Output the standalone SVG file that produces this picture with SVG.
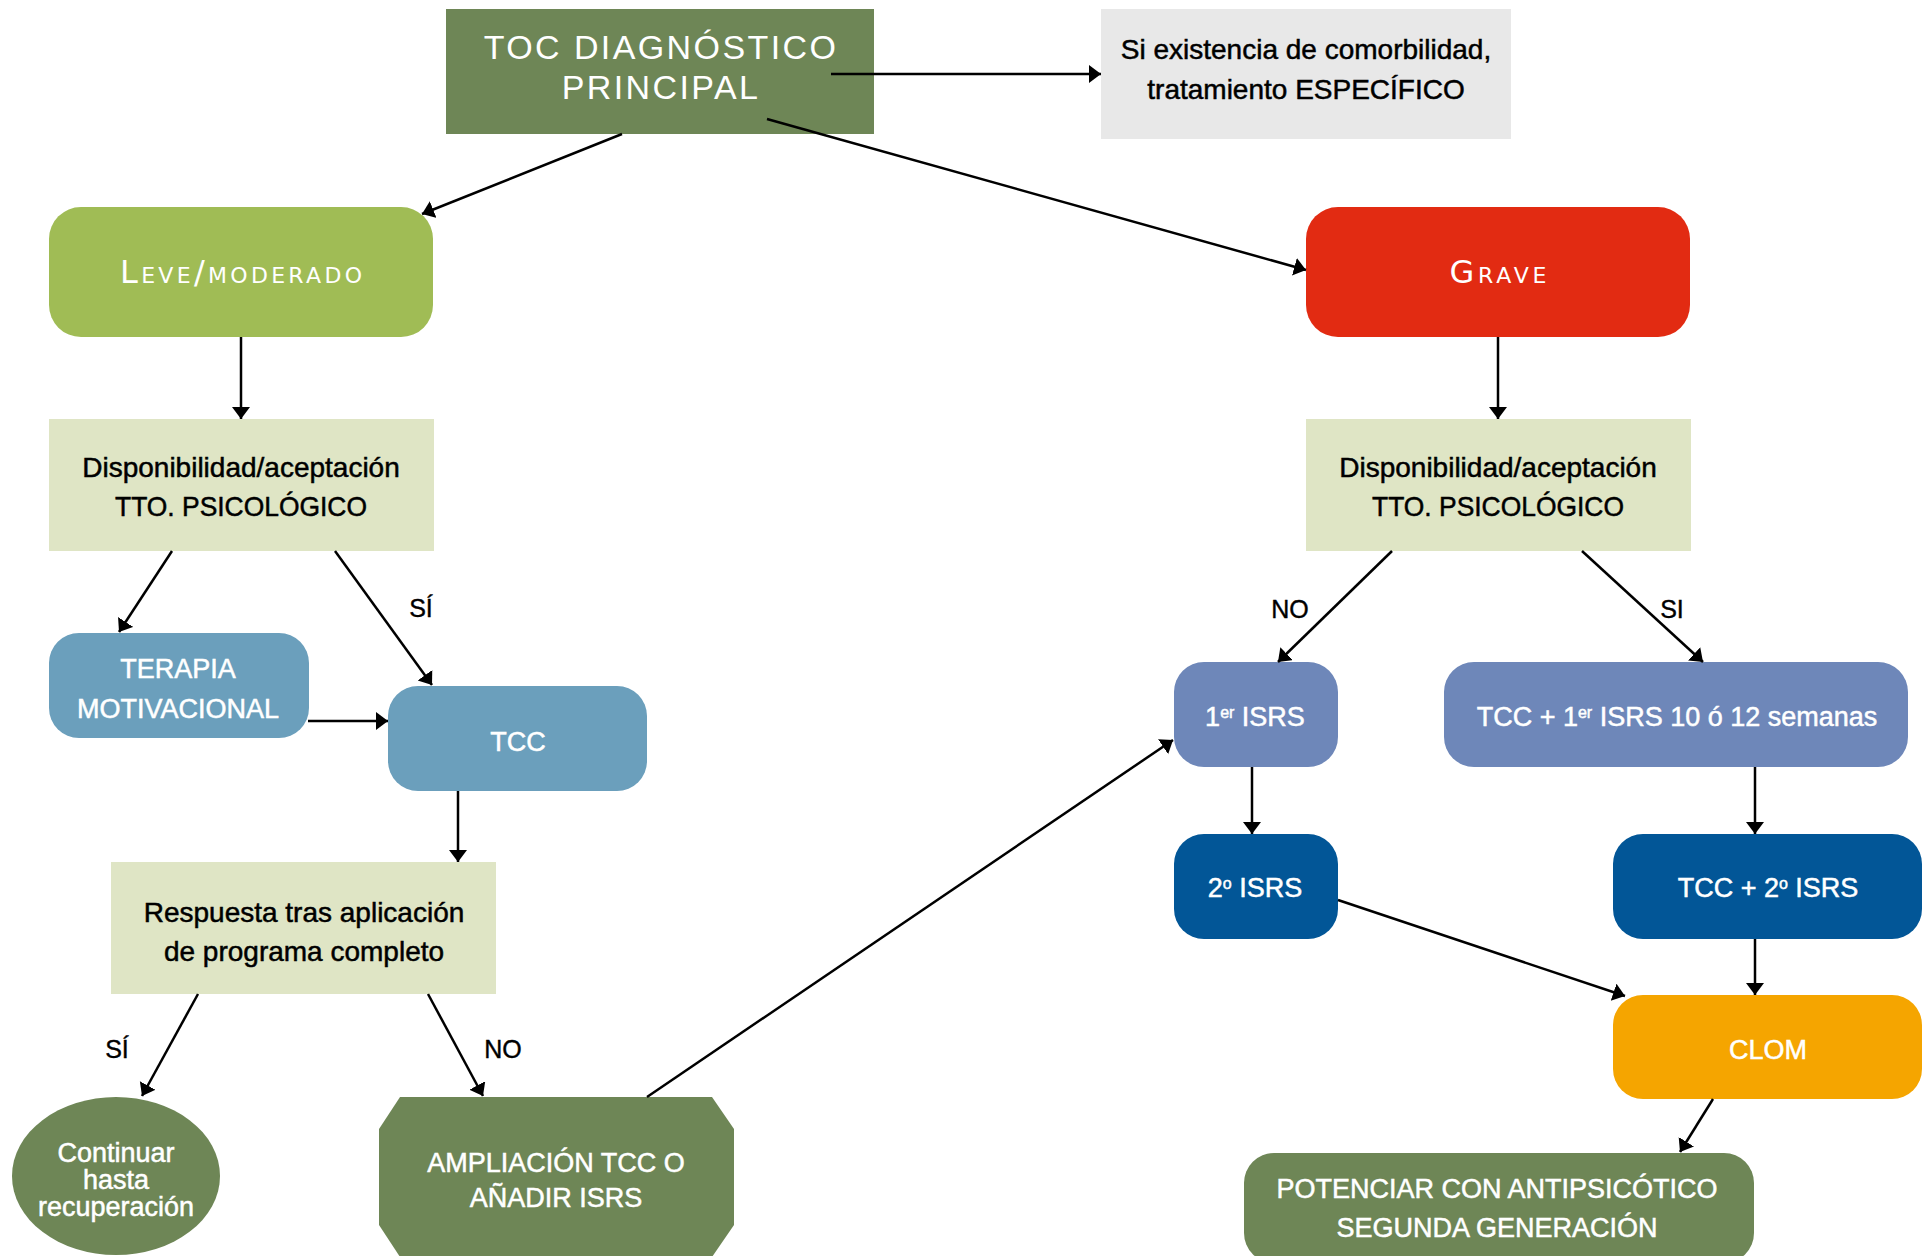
<svg xmlns="http://www.w3.org/2000/svg" width="1932" height="1256" viewBox="0 0 1932 1256">
<style>
text{font-family:"Liberation Sans",Arial,sans-serif;text-anchor:middle}
.w{fill:#ffffff;font-size:27px;stroke:#ffffff;stroke-width:0.5px}
.b{fill:#000000;font-size:28px;stroke:#000000;stroke-width:0.5px}
.lbl{fill:#000000;font-size:25px;stroke:#000000;stroke-width:0.4px}
.title{fill:#ffffff;font-size:34px;letter-spacing:2.4px}
.sc{fill:#ffffff;font-size:32px;font-variant:small-caps;font-family:"DejaVu Sans","Liberation Sans",sans-serif}
.olive{fill:#6E8656}
.lightg{fill:#DFE5C5}
.steel{fill:#6B9FBC}
.lav{fill:#6E87B9}
.navy{fill:#025697}
.conn line{stroke:#000;stroke-width:2.5;marker-end:url(#ah)}
</style>
<defs>
<marker id="ah" markerUnits="userSpaceOnUse" markerWidth="14" markerHeight="20" refX="12" refY="9" orient="auto">
<path d="M0,0 L12,9 L0,18 z" fill="#000"/>
</marker>
</defs>
<rect width="1932" height="1256" fill="#ffffff"/>

<g id="n-toc">
<rect x="446" y="9" width="428" height="125" class="olive"/>
<text class="title" x="661" y="59">TOC DIAGNÓSTICO</text>
<text class="title" x="661" y="99">PRINCIPAL</text>
</g>

<g id="n-comorb">
<rect x="1101" y="9" width="410" height="130" fill="#E8E8E8"/>
<text class="b" x="1306" y="59">Si existencia de comorbilidad,</text>
<text class="b" x="1306" y="99">tratamiento ESPECÍFICO</text>
</g>

<g id="n-leve">
<rect x="49" y="207" width="384" height="130" rx="32" fill="#A0BC55"/>
<text class="sc" x="241" y="283" textLength="242">Leve/moderado</text>
</g>

<g id="n-grave">
<rect x="1306" y="207" width="384" height="130" rx="32" fill="#E22B12"/>
<text class="sc" x="1498" y="283" textLength="97">Grave</text>
</g>

<g id="n-dispo-l">
<rect x="49" y="419" width="385" height="132" class="lightg"/>
<text class="b" x="241" y="477">Disponibilidad/aceptación</text>
<text class="b" x="241" y="516" textLength="252" lengthAdjust="spacingAndGlyphs">TTO. PSICOLÓGICO</text>
</g>

<g id="n-dispo-r">
<rect x="1306" y="419" width="385" height="132" class="lightg"/>
<text class="b" x="1498" y="477">Disponibilidad/aceptación</text>
<text class="b" x="1498" y="516" textLength="252" lengthAdjust="spacingAndGlyphs">TTO. PSICOLÓGICO</text>
</g>

<g id="n-terapia">
<rect x="49" y="633" width="260" height="105" rx="30" class="steel"/>
<text class="w" x="178" y="678">TERAPIA</text>
<text class="w" x="178" y="718">MOTIVACIONAL</text>
</g>

<g id="n-tcc">
<rect x="388" y="686" width="259" height="105" rx="30" class="steel"/>
<text class="w" x="518" y="751">TCC</text>
</g>

<g id="n-respuesta">
<rect x="111" y="862" width="385" height="132" class="lightg"/>
<text class="b" x="304" y="922">Respuesta tras aplicación</text>
<text class="b" x="304" y="961">de programa completo</text>
</g>

<g id="n-continuar">
<ellipse cx="116" cy="1176" rx="104" ry="79" class="olive"/>
<text class="w" x="116" y="1162">Continuar</text>
<text class="w" x="116" y="1189">hasta</text>
<text class="w" x="116" y="1216">recuperación</text>
</g>

<g id="n-ampliacion">
<polygon points="400,1097 712,1097 734,1129 734,1225 712,1257 400,1257 379,1225 379,1129" class="olive"/>
<text class="w" x="556" y="1172">AMPLIACIÓN TCC O</text>
<text class="w" x="556" y="1207">AÑADIR ISRS</text>
</g>

<g id="n-isrs1">
<rect x="1174" y="662" width="164" height="105" rx="30" class="lav"/>
<text class="w" x="1255" y="726">1<tspan font-size="16" baseline-shift="super">er</tspan> ISRS</text>
</g>

<g id="n-tcc-isrs1">
<rect x="1444" y="662" width="464" height="105" rx="30" class="lav"/>
<text class="w" x="1677" y="726">TCC + 1<tspan font-size="16" baseline-shift="super">er</tspan> ISRS 10 ó 12 semanas</text>
</g>

<g id="n-isrs2">
<rect x="1174" y="834" width="164" height="105" rx="30" class="navy"/>
<text class="w" x="1255" y="897">2<tspan font-size="16" baseline-shift="super">o</tspan> ISRS</text>
</g>

<g id="n-tcc-isrs2">
<rect x="1613" y="834" width="309" height="105" rx="30" class="navy"/>
<text class="w" x="1768" y="897">TCC + 2<tspan font-size="16" baseline-shift="super">o</tspan> ISRS</text>
</g>

<g id="n-clom">
<rect x="1613" y="995" width="309" height="104" rx="30" fill="#F5A500"/>
<text class="w" x="1768" y="1059">CLOM</text>
</g>

<g id="n-potenciar">
<rect x="1244" y="1153" width="510" height="110" rx="30" class="olive"/>
<text class="w" x="1497" y="1198">POTENCIAR CON ANTIPSICÓTICO</text>
<text class="w" x="1497" y="1237">SEGUNDA GENERACIÓN</text>
</g>

<g id="connectors" class="conn">
<line x1="831" y1="74" x2="1101" y2="74"/>
<line x1="622" y1="134" x2="422" y2="214"/>
<line x1="767" y1="119" x2="1306" y2="270"/>
<line x1="241" y1="337" x2="241" y2="419"/>
<line x1="1498" y1="337" x2="1498" y2="419"/>
<line x1="172" y1="551" x2="119" y2="632"/>
<line x1="335" y1="551" x2="432" y2="685"/>
<line x1="308" y1="721" x2="388" y2="721"/>
<line x1="458" y1="791" x2="458" y2="862"/>
<line x1="198" y1="994" x2="142" y2="1096"/>
<line x1="428" y1="994" x2="483" y2="1096"/>
<line x1="647" y1="1097" x2="1173" y2="740"/>
<line x1="1392" y1="551" x2="1278" y2="662"/>
<line x1="1582" y1="551" x2="1703" y2="662"/>
<line x1="1252" y1="767" x2="1252" y2="834"/>
<line x1="1755" y1="767" x2="1755" y2="834"/>
<line x1="1338" y1="900" x2="1625" y2="996"/>
<line x1="1755" y1="939" x2="1755" y2="995"/>
<line x1="1713" y1="1099" x2="1680" y2="1152"/>
</g>

<g id="labels">
<text class="lbl" x="421" y="617">SÍ</text>
<text class="lbl" x="1290" y="618">NO</text>
<text class="lbl" x="1672" y="618">SI</text>
<text class="lbl" x="117" y="1058">SÍ</text>
<text class="lbl" x="503" y="1058">NO</text>
</g>
</svg>
